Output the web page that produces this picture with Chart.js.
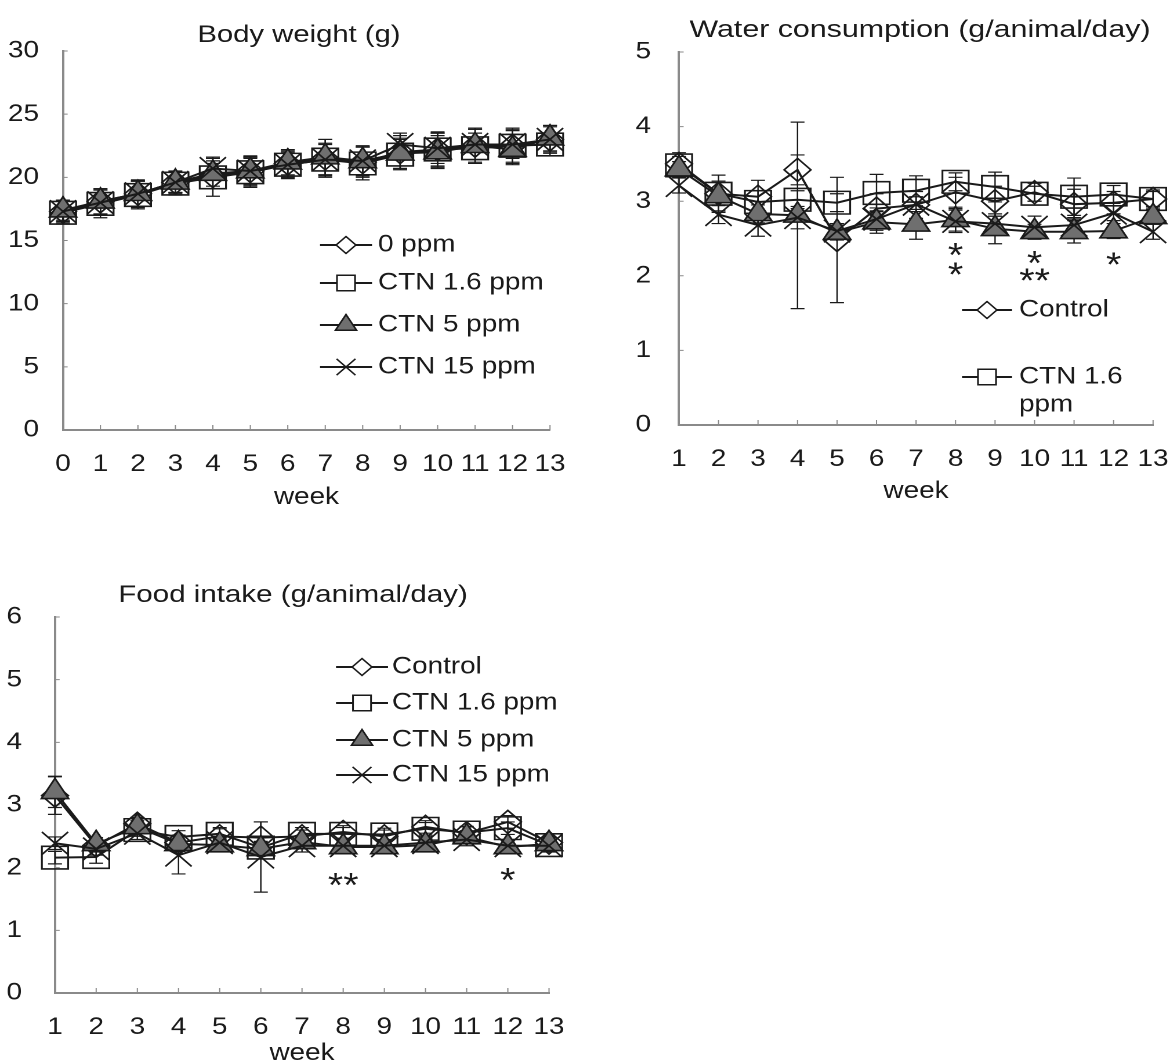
<!DOCTYPE html>
<html>
<head>
<meta charset="utf-8">
<script src="https://cdn.jsdelivr.net/npm/chart.js@4.4.1/dist/chart.umd.min.js"></script>
<style>
html,body{margin:0;padding:0;background:#fff;width:1173px;height:1062px;overflow:hidden;position:relative}
.box{position:absolute;transform-origin:0 0}
</style>
</head>
<body>
<div class="box" id="b1"><canvas id="c1"></canvas></div>
<div class="box" id="b2"><canvas id="c2"></canvas></div>
<div class="box" id="b3"><canvas id="c3"></canvas></div>
<script>
// ---------------- Body weight (g) ----------------
const bwWeeks = ['0','1','2','3','4','5','6','7','8','9','10','11','12','13'];
const bwLabels = ['0 ppm','CTN 1.6 ppm','CTN 5 ppm','CTN 15 ppm'];
const bwControl = [17.3,18.1,18.7,19.6,20.1,20.5,21.1,21.5,21.2,22.0,22.2,22.5,22.5,23.0];
const bwCtn16   = [17.2,17.9,18.6,19.5,20.0,20.4,21.0,21.4,21.1,21.8,22.2,22.3,22.5,22.6];
const bwCtn5    = [17.4,18.1,18.7,19.6,20.3,20.5,21.2,21.6,21.3,21.9,22.0,22.5,22.2,23.1];
const bwCtn15   = [17.3,18.0,18.7,19.6,20.7,20.5,21.0,21.4,21.3,22.6,22.3,22.6,22.6,23.0];
const bwSdControl = [0.9,1.0,1.1,0.9,1.0,1.2,1.1,1.5,1.2,1.3,1.4,1.3,1.3,1.1];
const bwSdCtn16   = [0.9,1.1,1.1,0.9,1.5,1.2,1.1,1.3,1.3,1.2,1.3,1.2,1.4,0.9];
const bwSdCtn5    = [0.8,1.0,1.0,0.8,1.0,1.1,1.0,1.4,1.2,1.2,1.3,1.4,1.2,1.0];
const bwSdCtn15   = [0.8,1.0,1.0,0.8,0.9,1.0,1.0,1.2,1.1,0.9,1.2,1.2,1.1,1.0];

// ---------------- Water consumption ----------------
const wcWeeks = ['1','2','3','4','5','6','7','8','9','10','11','12','13'];
const wcLabels = ['Control','CTN 1.6 ppm','CTN 5 ppm','CTN 15 ppm'];
const wcControl = [3.50,3.10,3.06,3.42,2.48,2.90,2.95,3.12,3.00,3.12,2.96,2.98,3.03];
const wcCtn16   = [3.48,3.10,2.99,3.02,2.98,3.11,3.14,3.26,3.19,3.10,3.06,3.09,3.03];
const wcCtn5    = [3.43,3.07,2.83,2.81,2.58,2.72,2.69,2.75,2.63,2.59,2.59,2.60,2.79];
const wcCtn15   = [3.21,2.82,2.68,2.78,2.60,2.76,2.96,2.73,2.70,2.65,2.68,2.84,2.59];
const wcSdControl = [0.15,0.25,0.22,0.20,0.84,0.20,0.18,0.20,0.20,0.12,0.20,0.15,0.12];
const wcSdCtn16   = [0.12,0.15,0.15,0.12,0.12,0.25,0.20,0.12,0.20,0.10,0.25,0.12,0.10];
const wcSdCtn5    = [0.10,0.20,0.12,1.25,0.10,0.15,0.20,0.15,0.20,0.10,0.15,0.10,0.10];
const wcSdCtn15   = [0.10,0.12,0.15,0.15,0.10,0.15,0.10,0.15,0.10,0.15,0.10,0.10,0.10];
const wcStarWeeks  = ['8','8','10','10','12'];
const wcStarValues = [2.39,2.13,2.28,2.05,2.26];
const wcStarTexts  = ['*','*','*','**','*'];

// ---------------- Food intake ----------------
const fiWeeks = ['1','2','3','4','5','6','7','8','9','10','11','12','13'];
const fiLabels = ['Control','CTN 1.6 ppm','CTN 5 ppm','CTN 15 ppm'];
const fiControl = [3.15,2.35,2.70,2.40,2.50,2.48,2.50,2.57,2.50,2.65,2.55,2.73,2.40];
const fiCtn16   = [2.16,2.17,2.60,2.49,2.54,2.32,2.54,2.54,2.53,2.62,2.56,2.63,2.36];
const fiCtn5    = [3.21,2.38,2.65,2.38,2.36,2.30,2.41,2.33,2.33,2.36,2.49,2.33,2.38];
const fiCtn15   = [2.39,2.30,2.55,2.20,2.40,2.17,2.35,2.35,2.35,2.40,2.45,2.35,2.35];
const fiSdControl = [0.30,0.10,0.10,0.12,0.12,0.25,0.10,0.10,0.10,0.10,0.10,0.10,0.10];
const fiSdCtn16   = [0.10,0.10,0.10,0.10,0.10,0.10,0.10,0.10,0.10,0.10,0.10,0.10,0.10];
const fiSdCtn5    = [0.25,0.10,0.10,0.12,0.10,0.10,0.10,0.10,0.10,0.10,0.10,0.10,0.10];
const fiSdCtn15   = [0.10,0.10,0.10,0.30,0.10,0.56,0.10,0.10,0.10,0.10,0.10,0.10,0.10];
const fiStarWeeks  = ['8','12'];
const fiStarValues = [1.855,1.935];
const fiStarTexts  = ['**','*'];

const FONT = "'Liberation Sans', Arial, Helvetica, sans-serif";
const INK = '#1a1a1a';
const SX = 1.16; // the original figure is horizontally stretched

const markerStyles = [
  {pointStyle:'rectRot',  radius:11.5, bg:'rgba(255,255,255,0)', legendR:8.5},
  {pointStyle:'rect',     radius:16,   bg:'rgba(255,255,255,0)', legendR:11},
  {pointStyle:'triangle', radius:13.5, bg:'#6f6f6f',             legendR:10.5},
  {pointStyle:'crossRot', radius:16,   bg:'rgba(255,255,255,0)', legendR:11.5}
];

function drawMarker(ctx, style, x, y, r, fill) {
  ctx.beginPath();
  if (style === 'rectRot') {
    ctx.moveTo(x, y - r); ctx.lineTo(x + r, y); ctx.lineTo(x, y + r); ctx.lineTo(x - r, y); ctx.closePath();
  } else if (style === 'rect') {
    const s = Math.SQRT1_2 * r; ctx.rect(x - s, y - s, 2 * s, 2 * s);
  } else if (style === 'triangle') {
    const a = 2 * Math.PI / 3;
    ctx.moveTo(x, y - r);
    ctx.lineTo(x + Math.sin(a) * r, y - Math.cos(a) * r);
    ctx.lineTo(x + Math.sin(2 * a) * r, y - Math.cos(2 * a) * r);
    ctx.closePath();
  } else if (style === 'crossRot') {
    const s = Math.SQRT1_2 * r;
    ctx.moveTo(x - s, y - s); ctx.lineTo(x + s, y + s);
    ctx.moveTo(x + s, y - s); ctx.lineTo(x - s, y + s);
  }
  if (style !== 'crossRot') { ctx.fillStyle = fill; ctx.fill(); }
  ctx.stroke();
}

// error bars drawn under the markers, through the chart's own scales
const errorBarPlugin = {
  id: 'errorBars',
  beforeDatasetsDraw(chart) {
    const ctx = chart.ctx, ys = chart.scales.y;
    ctx.save();
    ctx.strokeStyle = INK; ctx.lineWidth = 1.2;
    chart.data.datasets.forEach((ds, di) => {
      const meta = chart.getDatasetMeta(di);
      if (!ds.sd) return;
      meta.data.forEach((pt, i) => {
        const v = ds.data[i], e = ds.sd[i];
        const yt = ys.getPixelForValue(v + e), yb = ys.getPixelForValue(v - e);
        const x = pt.x;
        ctx.beginPath();
        ctx.moveTo(x, yt); ctx.lineTo(x, yb);
        ctx.moveTo(x - 6, yt); ctx.lineTo(x + 6, yt);
        ctx.moveTo(x - 6, yb); ctx.lineTo(x + 6, yb);
        ctx.stroke();
      });
    });
    ctx.restore();
  }
};

// small inside tick marks on the axes
const innerTicksPlugin = {
  id: 'innerTicks',
  beforeDatasetsDraw(chart) {
    const ctx = chart.ctx, xs = chart.scales.x, ys = chart.scales.y, a = chart.chartArea;
    ctx.save();
    ctx.strokeStyle = '#8a8a8a'; ctx.lineWidth = 1;
    ctx.beginPath();
    xs.ticks.forEach((t, i) => {
      const px = xs.getPixelForTick(i);
      ctx.moveTo(px, a.bottom); ctx.lineTo(px, a.bottom - 5);
    });
    ys.ticks.forEach((t, i) => {
      const py = ys.getPixelForTick(i);
      ctx.moveTo(a.left, py); ctx.lineTo(a.left + 4, py);
    });
    ctx.stroke();
    ctx.restore();
  }
};

// titles, legends (line + marker) and significance marks
const decorPlugin = {
  id: 'decor',
  afterDraw(chart, args, opts) {
    const ctx = chart.ctx;
    ctx.save();
    ctx.fillStyle = INK;
    if (opts.title) {
      const T = opts.title;
      ctx.save();
      ctx.font = T.size + 'px ' + FONT;
      ctx.textAlign = 'center'; ctx.textBaseline = 'alphabetic';
      ctx.translate(T.x, T.y);
      ctx.scale(T.stretch || 1, 1);
      ctx.fillText(T.text, 0, 0);
      ctx.restore();
    }
    if (opts.stars) {
      const xs = chart.scales.x, ys = chart.scales.y;
      ctx.font = opts.stars.size + 'px ' + FONT;
      ctx.textAlign = 'center'; ctx.textBaseline = 'alphabetic';
      opts.stars.weeks.forEach((w, i) => {
        const px = xs.getPixelForValue(xs.getLabels().indexOf(w));
        const py = ys.getPixelForValue(opts.stars.values[i]);
        ctx.fillText(opts.stars.texts[i], px, py + 0.58 * opts.stars.size);
      });
    }
    if (opts.legend) {
      const L = opts.legend;
      const lineH = L.lineH || 28;
      ctx.font = L.size + 'px ' + FONT;
      ctx.textAlign = 'left'; ctx.textBaseline = 'middle';
      L.items.forEach((di, k) => {
        const ds = chart.data.datasets[di];
        const st = markerStyles[di];
        const y = L.ys[k];
        ctx.strokeStyle = INK; ctx.lineWidth = 2;
        ctx.beginPath(); ctx.moveTo(L.x0, y); ctx.lineTo(L.x1, y); ctx.stroke();
        ctx.lineWidth = 1.5;
        drawMarker(ctx, st.pointStyle, (L.x0 + L.x1) / 2, y, st.legendR, st.pointStyle === 'triangle' ? st.bg : '#fff');
        const words = ds.label.split(' ');
        const lines = [];
        let cur = '';
        words.forEach(wd => {
          const t = cur ? cur + ' ' + wd : wd;
          if (L.maxWidth && cur && ctx.measureText(t).width > L.maxWidth) { lines.push(cur); cur = wd; }
          else cur = t;
        });
        lines.push(cur);
        ctx.fillStyle = INK;
        lines.forEach((ln, j) => ctx.fillText(ln, L.tx, y + j * lineH));
      });
    }
    ctx.restore();
  }
};

function makeDatasets(labels, series, sds) {
  return series.map((data, i) => ({
    label: labels[i],
    data: data,
    sd: sds[i],
    borderColor: INK,
    borderWidth: 2,
    pointStyle: markerStyles[i].pointStyle,
    pointRadius: markerStyles[i].radius,
    pointHoverRadius: markerStyles[i].radius,
    pointBackgroundColor: markerStyles[i].bg,
    pointBorderColor: INK,
    pointBorderWidth: 1.6,
    fill: false,
    tension: 0,
    order: 3 - i
  }));
}

// x positions in cfg are final page pixels; each chart is drawn narrower and stretched by SX
function makeChart(id, boxId, cfg) {
  const W = Math.round(cfg.W / SX), H = cfg.H;
  const box = document.getElementById(boxId);
  box.style.left = cfg.pageX + 'px';
  box.style.top = cfg.pageY + 'px';
  box.style.width = W + 'px';
  box.style.height = H + 'px';
  box.style.transform = 'scaleX(' + SX + ')';
  const cv = document.getElementById(id);
  cv.width = W; cv.height = H;
  cv.style.width = W + 'px'; cv.style.height = H + 'px';
  const sx = v => v / SX;
  const title = Object.assign({}, cfg.title, { x: sx(cfg.title.x) });
  const legend = Object.assign({}, cfg.legend, { x0: sx(cfg.legend.x0), x1: sx(cfg.legend.x1), tx: sx(cfg.legend.tx),
    maxWidth: cfg.legend.maxWidth ? sx(cfg.legend.maxWidth) : 0 });
  return new Chart(cv, {
    type: 'line',
    data: { labels: cfg.labels, datasets: makeDatasets(cfg.seriesLabels, cfg.series, cfg.sds) },
    plugins: [innerTicksPlugin, errorBarPlugin, decorPlugin],
    options: {
      responsive: false,
      maintainAspectRatio: false,
      animation: false,
      devicePixelRatio: 2,
      events: [],
      layout: { padding: { left: 0, top: cfg.top, right: W - sx(cfg.right), bottom: 0 } },
      plugins: {
        legend: { display: false },
        tooltip: { enabled: false },
        title: { display: false },
        decor: { title: title, legend: legend, stars: cfg.stars }
      },
      scales: {
        x: {
          type: 'category',
          offset: false,
          grid: { display: false, drawTicks: false },
          border: { display: true, color: '#8a8a8a', width: 2, dash: [2, 1] },
          ticks: { color: INK, font: { family: FONT, size: 24 }, padding: cfg.xPad, maxRotation: 0, autoSkip: false },
          title: { display: true, text: 'week', color: INK, font: { family: FONT, size: 24 }, padding: { top: 0, bottom: cfg.weekPad } },
          afterFit: s => { s.height = H - cfg.bottom; s.paddingLeft = 0; s.paddingRight = 0; }
        },
        y: {
          min: cfg.yMin, max: cfg.yMax,
          grid: { display: false, drawTicks: false },
          border: { display: true, color: '#8a8a8a', width: 2, dash: [2, 1] },
          ticks: { stepSize: cfg.step, color: INK, font: { family: FONT, size: 24 }, padding: sx(cfg.yPad) },
          afterFit: s => { s.width = sx(cfg.left); }
        }
      }
    }
  });
}

makeChart('c1', 'b1', {
  pageX: 0, pageY: 0, W: 580, H: 520, left: 63, right: 550, top: 51, bottom: 430,
  labels: bwWeeks, seriesLabels: bwLabels,
  series: [bwControl, bwCtn16, bwCtn5, bwCtn15],
  sds: [bwSdControl, bwSdCtn16, bwSdCtn5, bwSdCtn15],
  yMin: 0, yMax: 30, step: 5, yPad: 24, xPad: 20, weekPad: 8,
  title: { text: 'Body weight (g)', x: 299, y: 42, size: 24, stretch: 1.05 },
  legend: { items: [0,1,2,3], x0: 320, x1: 372, tx: 378, ys: [245, 283, 325, 367], size: 24 }
});

makeChart('c2', 'b2', {
  pageX: 590, pageY: 0, W: 583, H: 520, left: 89, right: 565, top: 52, bottom: 425,
  labels: wcWeeks, seriesLabels: wcLabels,
  series: [wcControl, wcCtn16, wcCtn5, wcCtn15],
  sds: [wcSdControl, wcSdCtn16, wcSdCtn5, wcSdCtn15],
  yMin: 0, yMax: 5, step: 1, yPad: 28, xPad: 20, weekPad: 14,
  title: { text: 'Water consumption (g/animal/day)', x: 330, y: 37, size: 24, stretch: 1.09 },
  legend: { items: [0,1], x0: 372, x1: 422, tx: 429, ys: [310, 377], size: 24, maxWidth: 120, lineH: 28 },
  stars: { weeks: wcStarWeeks, values: wcStarValues, texts: wcStarTexts, size: 34 }
});

makeChart('c3', 'b3', {
  pageX: 0, pageY: 570, W: 580, H: 520, left: 55, right: 549, top: 47, bottom: 423,
  labels: fiWeeks, seriesLabels: fiLabels,
  series: [fiControl, fiCtn16, fiCtn5, fiCtn15],
  sds: [fiSdControl, fiSdCtn16, fiSdCtn5, fiSdCtn15],
  yMin: 0, yMax: 6, step: 1, yPad: 33, xPad: 20, weekPad: 22,
  title: { text: 'Food intake (g/animal/day)', x: 293, y: 32, size: 24, stretch: 1.06 },
  legend: { items: [0,1,2,3], x0: 336, x1: 388, tx: 392, ys: [97, 133, 170, 205], size: 24 },
  stars: { weeks: fiStarWeeks, values: fiStarValues, texts: fiStarTexts, size: 34 }
});
</script>
</body>
</html>
